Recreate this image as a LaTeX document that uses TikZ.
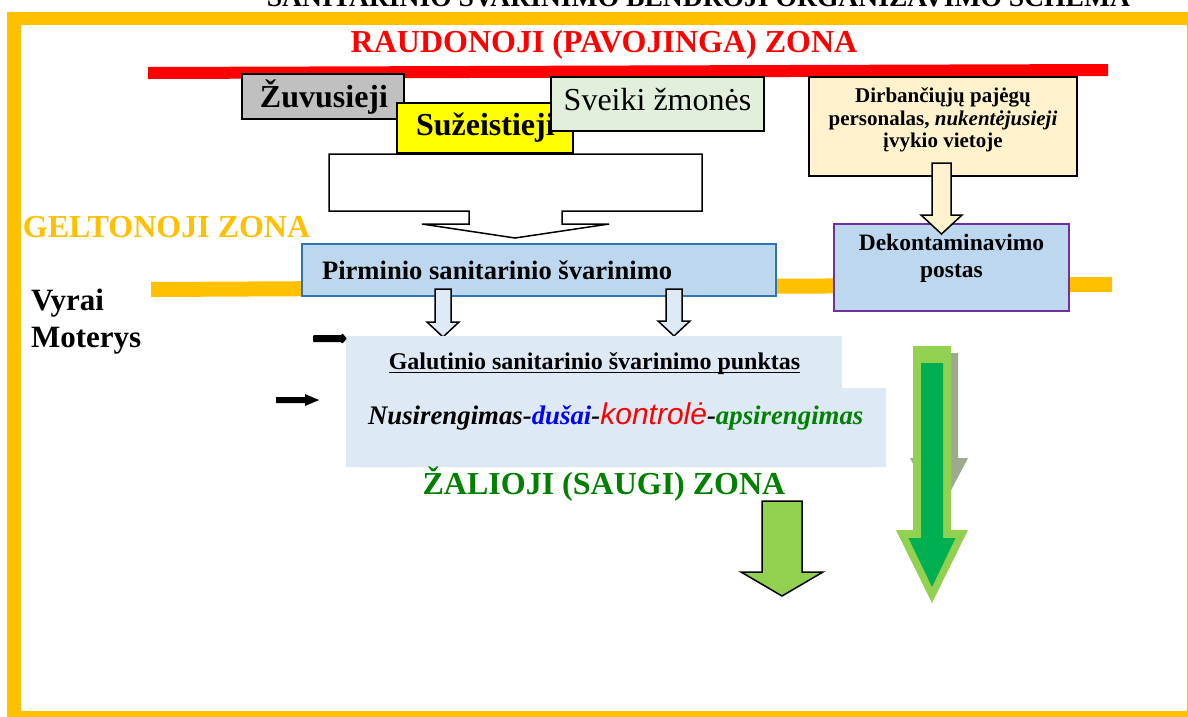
\documentclass[tikz,border=0pt]{standalone}
\usepackage{fontspec}
\setmainfont{Liberation Serif}
\newfontfamily\sansfam{Liberation Sans}
\definecolor{zyellow}{RGB}{255,192,0}
\definecolor{zred}{RGB}{255,0,0}
\definecolor{zgray}{RGB}{192,192,192}
\definecolor{zsun}{RGB}{255,255,0}
\definecolor{zmint}{RGB}{226,239,218}
\definecolor{zblue}{RGB}{189,215,238}
\definecolor{zblueline}{RGB}{46,117,182}
\definecolor{zpale}{RGB}{222,235,247}
\definecolor{zpanel}{RGB}{221,233,245}
\definecolor{zcream}{RGB}{255,242,204}
\definecolor{zpurple}{RGB}{112,48,160}
\definecolor{zlime}{RGB}{146,208,80}
\definecolor{zgreen}{RGB}{0,176,80}
\definecolor{ztext}{RGB}{0,128,0}
\definecolor{zshadow}{RGB}{157,170,142}
\newcommand\fsz[1]{\fontsize{#1pt}{#1pt}\selectfont}
\newcommand\BlkDown[7]{\filldraw[#1] ({#2-#3},#5) -- ({#2+#3},#5) -- ({#2+#3},#6) -- ({#2+#4},#6) -- (#2,#7) -- ({#2-#4},#6) -- ({#2-#3},#6) -- cycle;}
\begin{document}
\begin{tikzpicture}[x=1pt,y=-1pt,
  every node/.style={inner sep=0pt,outer sep=0pt},
  boxline/.style={draw=black,line width=1.6pt},
  labeltext/.style={anchor=base,font=\fsz{32}\bfseries},
  boxtext/.style={anchor=base,font=\fsz{21}\bfseries},
  blockarrow/.style={draw=black,line width=1.5pt,line join=miter}]
\useasboundingbox (0,0) rectangle (1188,716);
\clip (0,0) rectangle (1188,716);
% frame
\fill[zyellow] (7,12) rectangle (1200,730);
\fill[white] (21,25) rectangle (1187,711);
% cut title
\node[anchor=base,font=\fsz{27.6}\bfseries] (title) at (698.5,6) {SANITARINIO ŠVARINIMO BENDROJI ORGANIZAVIMO SCHEMA};
% zone lines
\fill[zred] (148,67) -- (1108,64) -- (1108,76) -- (148,79) -- cycle;
\fill[zyellow] (151,282) -- (1112,277) -- (1112,292) -- (151,297) -- cycle;
% red zone boxes
\node[boxline,fill=zgray,minimum width=162pt,minimum height=45pt,anchor=north west] (zuv) at (242,74) {};
\node[labeltext] (zuvT) at (324,107) {Žuvusieji};
\node[boxline,fill=zsun,minimum width=176pt,minimum height=50pt,anchor=north west] (suz) at (397,103) {};
\node[labeltext,anchor=base west] (suzT) at (416,135) {Sužeistieji};
\node[boxline,fill=zmint,minimum width=213pt,minimum height=54pt,anchor=north west] (sve) at (551,77) {};
\node[anchor=base,font=\fsz{32}] (sveT) at (657.5,110) {Sveiki žmonės};
% white callout arrow
\filldraw[blockarrow,fill=white] (329,154) -- (702,154) -- (702,211) -- (562,211) -- (562,224) -- (609,224) -- (515,238) -- (422,224) -- (469,224) -- (469,211) -- (329,211) -- cycle;
% primary
\node[draw=zblueline,line width=1.8pt,fill=zblue,minimum width=474pt,minimum height=52pt,anchor=north west] (pir) at (302,244) {};
\node[anchor=base west,font=\fsz{26.6}\bfseries] (pirT) at (322,279) {Pirminio sanitarinio švarinimo};
\BlkDown{blockarrow,fill=zpale}{443}{8}{16}{289}{322}{337}
\BlkDown{blockarrow,fill=zpale}{674}{8}{16}{289}{321}{336}
% final panel
\fill[zpanel] (346,336) -- (842,336) -- (842,388) -- (886,388) -- (886,467) -- (346,467) -- cycle;
\node[anchor=base,font=\fsz{24}\bfseries] (galT) at (594.5,369) {Galutinio sanitarinio švarinimo punktas};
\draw[line width=1.4pt] ([yshift=-3.5pt]galT.base west) -- ([yshift=-3.5pt]galT.base east);
\node[anchor=base west,font=\fsz{26.8}\bfseries\itshape] (procT) at (368,424) {Nusirengimas-\textcolor{blue}{dušai}-{\color{zred}\sansfam\mdseries\fsz{30}kontrolė}-\textcolor{ztext}{apsirengimas}};
% black arrows
\fill[black,rounded corners=1pt] (313,335) -- (342,335) -- (342,333) -- (347,338.5) -- (342,344) -- (342,342) -- (313,342) -- cycle;
\fill[black] (276,397) -- (305,397) -- (305,394) -- (319,400) -- (305,406) -- (305,403) -- (276,403) -- cycle;
% right column
\node[boxline,fill=zcream,minimum width=268pt,minimum height=99pt,anchor=north west] (dir) at (809,77) {};
\node[boxtext] (dirT1) at (943,102) {Dirbančiųjų pajėgų};
\node[boxtext] (dirT2) at (943,125) {personalas, \textit{nukentėjusieji}};
\node[boxtext] (dirT3) at (943,147) {įvykio vietoje};
\node[draw=zpurple,line width=1.8pt,fill=zblue,minimum width=235pt,minimum height=87pt,anchor=north west] (dek) at (834,224) {};
\node[boxtext,font=\fsz{23.5}\bfseries] (dekT1) at (951.5,250) {Dekontaminavimo};
\node[boxtext,font=\fsz{23.5}\bfseries] (dekT2) at (951.5,277) {postas};
\BlkDown{blockarrow,fill=zcream}{941.5}{9.5}{20.5}{163}{215}{234}
% zone labels
\node[labeltext,text=zred] (redT) at (604,52) {RAUDONOJI (PAVOJINGA) ZONA};
\node[labeltext,anchor=base west,text=zyellow] (yelT) at (23,237) {GELTONOJI ZONA};
\node[labeltext,anchor=base west,font=\fsz{31}\bfseries] (vyr) at (31,310) {Vyrai};
\node[labeltext,anchor=base west,font=\fsz{31}\bfseries] (mot) at (31,347) {Moterys};
\node[labeltext,text=ztext] (grnT) at (604,494) {ŽALIOJI (SAUGI) ZONA};
% green arrows
\BlkDown{blockarrow,fill=zlime}{782}{20}{41}{501}{572}{596}
\fill[zshadow] (920,353) -- (958,353) -- (958,458) -- (968,458) -- (939,513) -- (910,458) -- (920,458) -- cycle;
\BlkDown{fill=zlime,draw=none}{932}{19}{36}{346}{530}{603}
\BlkDown{fill=zgreen,draw=none}{932}{11}{23.5}{363}{538}{587}
\end{tikzpicture}
\end{document}
